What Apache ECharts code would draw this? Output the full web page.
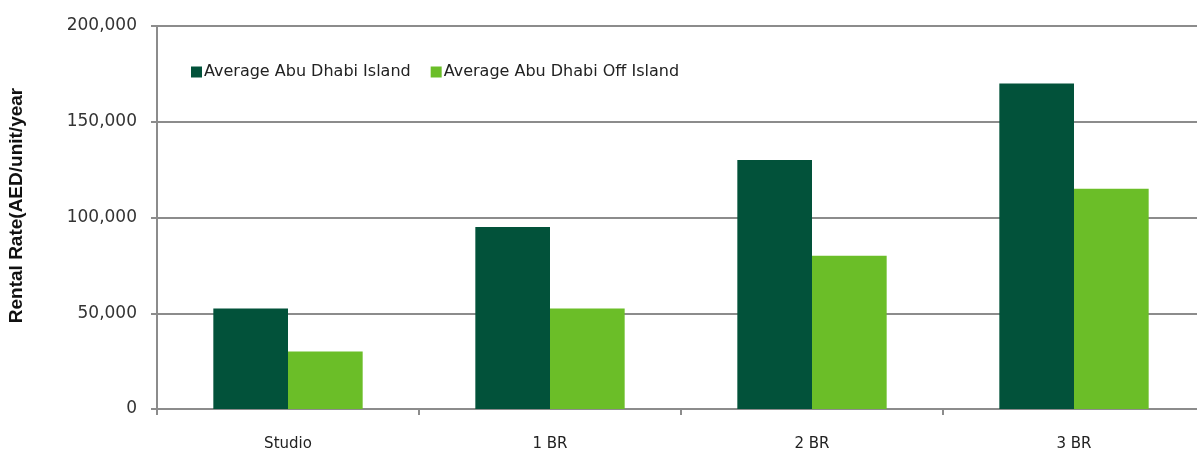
<!DOCTYPE html>
<html><head><meta charset="utf-8">
<script src="https://cdn.jsdelivr.net/npm/echarts@6/dist/echarts.min.js"></script>
<style>html,body{margin:0;padding:0;background:#fff}#c{width:1197px;height:450px}</style>
</head><body><div id="c"></div>
<script>
const categories = ['Studio', '1 BR', '2 BR', '3 BR'];
const seriesNames = ['Average Abu Dhabi Island', 'Average Abu Dhabi Off Island'];
const islandValues = [52500, 95000, 130000, 170000];
const offIslandValues = [30000, 52500, 80000, 115000];
const yTicks = [0, 50000, 100000, 150000, 200000];

const chart = echarts.init(document.getElementById('c'));
const font = '"DejaVu Sans", sans-serif';
chart.setOption({
  animation: false,
  textStyle: { fontFamily: font },
  grid: { left: 157, top: 26, width: 1048, bottom: 41, outerBoundsMode: 'none', containLabel: false },
  legend: {
    left: 186, top: 59, itemWidth: 11, itemHeight: 11, itemGap: 20,
    icon: 'rect',
    textStyle: { fontSize: 16, color: '#222', fontFamily: font, padding: [0,0,0,-3] },
    data: seriesNames
  },
  xAxis: {
    type: 'category', data: categories,
    axisLine: { lineStyle: { color: '#8c8c8c', width: 2 } },
    axisTick: { show: true, length: 6, lineStyle: { color: '#8c8c8c', width: 2 } },
    axisLabel: { fontSize: 15, color: '#222', margin: 28 }
  },
  yAxis: {
    type: 'value', min: yTicks[0], max: yTicks[yTicks.length-1], interval: 50000,
    name: 'Rental Rate(AED/unit/year', nameLocation: 'middle', nameGap: 131,
    nameTextStyle: { fontSize: 19, fontWeight: 'bold', color: '#111', fontFamily: '"Liberation Sans", sans-serif', padding: [0,0,0,24] },
    axisLine: { show: true, lineStyle: { color: '#8c8c8c', width: 2 } },
    axisTick: { show: true, length: 6, lineStyle: { color: '#8c8c8c', width: 2 } },
    splitLine: { lineStyle: { color: '#8c8c8c', width: 2 } },
    axisLabel: { fontSize: 17, color: '#333', margin: 20,
      formatter: v => v.toLocaleString('en-US') }
  },
  series: [
    { name: seriesNames[0], type: 'bar', data: islandValues, barGap: '0%', barCategoryGap: '43%',
      itemStyle: { color: '#02523A' } },
    { name: seriesNames[1], type: 'bar', data: offIslandValues,
      itemStyle: { color: '#6BBE28' } }
  ]
});
</script></body></html>
